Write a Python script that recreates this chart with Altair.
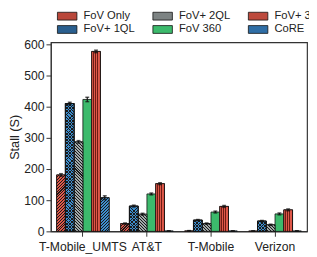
import math
import altair as alt
import pandas as pd

carriers = ["T-Mobile_UMTS", "AT&T", "T-Mobile", "Verizon"]
series = ["FoV Only", "FoV+ 1QL", "FoV+ 2QL", "FoV 360", "FoV+ 36", "CoRE"]
colors = {"FoV Only": "#df5849", "FoV+ 1QL": "#3d8ecf", "FoV+ 2QL": "#a2a9a9",
          "FoV 360": "#3cba6c", "FoV+ 36": "#df5849", "CoRE": "#3d8ecf"}
# solid look-alike colours for the legend swatches (hatched in the original)
legend_colors = {"FoV Only": "#b9473a", "FoV+ 1QL": "#2a5f8f", "FoV+ 2QL": "#7d8383",
                 "FoV 360": "#3cba6c", "FoV+ 36": "#bd4a3d", "CoRE": "#2f6ea6"}

stall = {
    "FoV Only": [181, 25, 2, 1.5],
    "FoV+ 1QL": [410, 81, 36, 33],
    "FoV+ 2QL": [287, 55, 25, 21],
    "FoV 360": [423, 120, 62, 56],
    "FoV+ 36": [577, 153, 80, 69],
    "CoRE": [108, 1.5, 1.5, 1.5],
}
err = {
    "FoV Only": [4, 2, 0.5, 0.5],
    "FoV+ 1QL": [4, 3, 2, 2],
    "FoV+ 2QL": [4, 3, 2, 2],
    "FoV 360": [7, 3, 3, 3],
    "FoV+ 36": [4, 3, 3, 3],
    "CoRE": [6, 0.5, 0.5, 0.5],
}
yticks = [0, 100, 200, 300, 400, 500, 600]

rows = []
for s in series:
    for i, c in enumerate(carriers):
        rows.append({"carrier": c, "series": s, "stall": stall[s][i],
                     "lo": stall[s][i] - err[s][i], "hi": stall[s][i] + err[s][i]})
df = pd.DataFrame(rows)

# layout / style constants
W, H, YMAX = 263, 194, 606
PI, PO = 0.18, 0.09
BW = W / (4 - PI + 2 * PO) * (1 - PI) / len(series)
DARK = "#1a1a1a"
CLEAR = "rgba(0,0,0,0)"


def hatch(w, h, bg, line, direction, period=3.0, frac=0.36):
    """Linear gradient (bbox units) drawing 45-degree hatch lines."""
    L = w + h
    k = L / (w * w + h * h)
    if direction == "/":
        g = {"gradient": "linear", "x1": 0, "y1": 0, "x2": w * k, "y2": h * k}
    else:
        g = {"gradient": "linear", "x1": 0, "y1": 1, "x2": w * k, "y2": 1 - h * k}
    stops = []
    n = int(math.ceil(L / period))
    for i in range(n):
        a = i * period / L
        b = min(1.0, a + (1 - frac) * period / L)
        e = min(1.0, a + period / L)
        stops += [{"offset": round(min(a, 1.0), 5), "color": bg},
                  {"offset": round(b, 5), "color": bg},
                  {"offset": round(b, 5), "color": line},
                  {"offset": round(e, 5), "color": line}]
    g["stops"] = stops
    return g


def vstripes(bg, line, n=4, frac=0.4):
    st = []
    for k in range(n):
        a = k / n
        st += [{"offset": a, "color": bg}, {"offset": a + (1 - frac) / n, "color": bg},
               {"offset": a + (1 - frac) / n, "color": line}, {"offset": a + 1.0 / n, "color": line}]
    return {"gradient": "linear", "x1": 0, "y1": 0, "x2": 1, "y2": 0, "stops": st}


font = "Liberation Sans"
x = alt.X("carrier:N", sort=carriers,
          scale=alt.Scale(domain=carriers, paddingInner=PI, paddingOuter=PO),
          axis=alt.Axis(title=None, labelAngle=0, labelFontSize=12.5, labelColor="#222",
                        tickSize=5, tickColor="#333", domainColor="#333", labelPadding=5))
xo = alt.XOffset("series:N", sort=series, scale=alt.Scale(domain=series, paddingInner=0))
yscale = alt.Scale(domain=[0, YMAX], nice=False)
yaxis = alt.Axis(title="Stall (S)", values=yticks, labelOverlap=False, grid=False,
                 labelFontSize=12.5, labelColor="#222", titleFontSize=13,
                 titleFontWeight="normal", titleColor="#222", tickSize=5,
                 tickColor="#333", domainColor="#333", titlePadding=2)


def yenc(field):
    return alt.Y(field, type="quantitative", scale=yscale, axis=yaxis, title="Stall (S)")


base = alt.Chart(df)
bars = base.mark_bar(stroke="#111", strokeWidth=0.8).encode(
    x=x, xOffset=xo, y=yenc("stall"),
    fill=alt.Fill("series:N", scale=alt.Scale(domain=series,
                                              range=[legend_colors[s] for s in series]),
                  legend=alt.Legend(title=None, orient="none", legendX=11, legendY=-33,
                                    columns=3, columnPadding=16, rowPadding=1, padding=0,
                                    symbolType="M-2,-0.8L2,-0.8L2,0.8L-2,0.8Z",
                                    symbolSize=100, labelOffset=11,
                                    labelFontSize=11.5, labelColor="#222",
                                    symbolStrokeColor="#111", symbolStrokeWidth=0.8,
                                    symbolOpacity=1, labelLimit=200)),
)

layers = [bars]


def overlay(s, ci, fill):
    c = carriers[ci]
    return base.transform_filter(
        (alt.datum.series == s) & (alt.datum.carrier == c)
    ).mark_bar(fill=fill, stroke="#111", strokeWidth=0.8).encode(
        x=x, xOffset=xo, y=yenc("stall"))


for ci in range(len(carriers)):
    for s, bg, d in [("FoV Only", colors["FoV Only"], "/"),
                     ("FoV+ 2QL", colors["FoV+ 2QL"], "\\"),
                     ("CoRE", colors["CoRE"], "/")]:
        h = stall[s][ci] / YMAX * H
        if h > 3:
            layers.append(overlay(s, ci, hatch(BW, h, bg, DARK, d)))
    h = stall["FoV+ 1QL"][ci] / YMAX * H
    if h > 3:
        layers.append(overlay("FoV+ 1QL", ci, hatch(BW, h, colors["FoV+ 1QL"], DARK, "/", period=3.3, frac=0.3)))
        layers.append(overlay("FoV+ 1QL", ci, hatch(BW, h, CLEAR, DARK, "\\", period=3.3, frac=0.3)))

over36 = base.transform_filter(alt.datum.series == "FoV+ 36").mark_bar(
    fill=vstripes(colors["FoV+ 36"], "#6e1c15"), stroke="#111", strokeWidth=0.8).encode(
    x=x, xOffset=xo, y=yenc("stall"))
layers.append(over36)

rule = base.mark_rule(color="#111", strokeWidth=1.2).encode(
    x=x, xOffset=xo, y=yenc("lo"), y2="hi:Q")
cap_hi = base.mark_tick(color="#111", thickness=1.5, size=4).encode(
    x=x, xOffset=xo, y=yenc("hi"))
cap_lo = base.mark_tick(color="#111", thickness=1.5, size=4).encode(
    x=x, xOffset=xo, y=yenc("lo"))
layers += [rule, cap_hi, cap_lo]

chart = alt.layer(*layers).properties(
    width=W, height=H,
    autosize=alt.AutoSizeParams(type="none"),
    padding={"left": 44, "top": 32, "right": 2, "bottom": 23},
).configure(font=font).configure_view(stroke="#333", strokeWidth=1.2)

chart.save("out.html", embed_options={"renderer": "svg", "actions": False})
